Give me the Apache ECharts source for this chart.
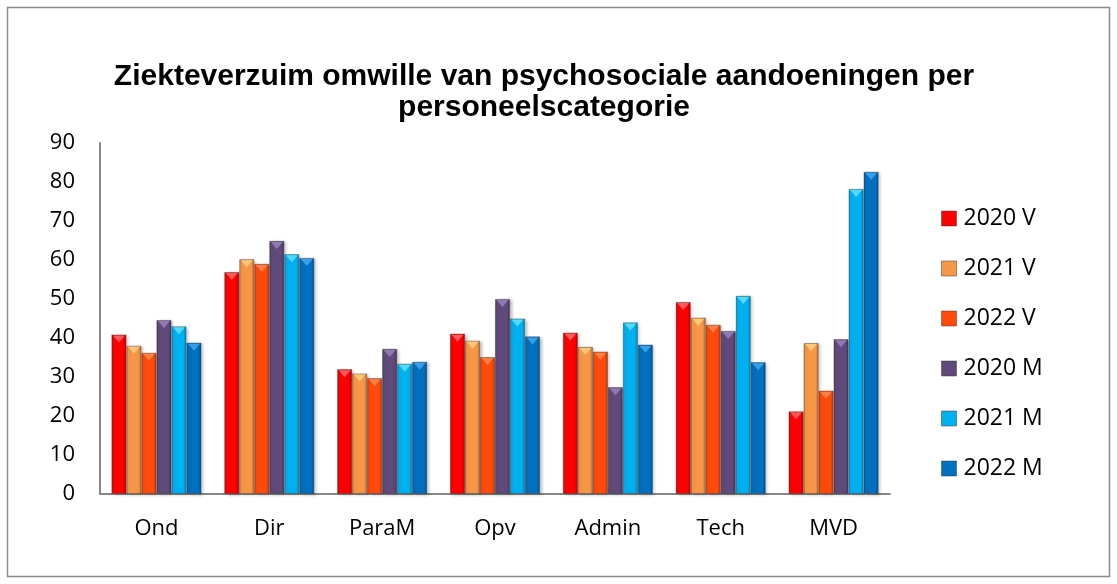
<!DOCTYPE html>
<html>
<head>
<meta charset="utf-8">
<script src="https://cdn.jsdelivr.net/npm/echarts@6/dist/echarts.min.js"></script>
<style>
html,body{margin:0;padding:0;background:#fff;}
#chart{width:1117px;height:584px;}
</style>
</head>
<body>
<div id="chart"></div>
<script>
const titleText = 'Ziekteverzuim omwille van psychosociale aandoeningen per\npersoneelscategorie';
const categories = ['Ond', 'Dir', 'ParaM', 'Opv', 'Admin', 'Tech', 'MVD'];
const seriesNames = ['2020 V', '2021 V', '2022 V', '2020 M', '2021 M', '2022 M'];
const v2020 = [40.9, 56.9, 32.0, 41.1, 41.4, 49.2, 21.2];
const v2021 = [38.0, 60.2, 30.9, 39.3, 37.7, 45.2, 38.7];
const v2022 = [36.2, 59.0, 29.7, 35.1, 36.5, 43.4, 26.5];
const m2020 = [44.6, 64.9, 37.2, 50.0, 27.4, 41.8, 39.7];
const m2021 = [43.0, 61.5, 33.4, 45.0, 44.0, 50.8, 78.2];
const m2022 = [38.8, 60.5, 33.9, 40.4, 38.3, 33.8, 82.6];
const yTicks = [0, 10, 20, 30, 40, 50, 60, 70, 80, 90];

const colors = ['#FF0000', '#F79646', '#FF4A0A', '#604A7B', '#00B0F0', '#0070C0'];
const darks  = ['#B00000', '#B86A2E', '#B83206', '#3E2F52', '#0080B0', '#004E88'];
const tops   = ['#FF6A6A', '#FFD080', '#FF8A50', '#9A80C0', '#60E0FF', '#40A8F0'];
const values = [v2020, v2021, v2022, m2020, m2021, m2022];

function grad(c, d) {
  return new echarts.graphic.LinearGradient(0, 0, 1, 0, [
    {offset: 0, color: d},
    {offset: 0.12, color: c},
    {offset: 0.8, color: c},
    {offset: 1, color: d}
  ]);
}

const chart = echarts.init(document.getElementById('chart'), null, {renderer: 'canvas'});
const series = seriesNames.map((n, i) => ({
  name: n,
  type: 'bar',
  data: values[i],
  barWidth: 15,
  barGap: '0%',
  itemStyle: {
    color: grad(colors[i], darks[i]),
    borderColor: 'rgba(60,60,60,0.45)',
    borderWidth: 0.8,
    shadowColor: 'rgba(0,0,0,0.25)',
    shadowBlur: 3,
    shadowOffsetX: 2,
    shadowOffsetY: 1
  },
  emphasis: {disabled: true}
}));
seriesNames.forEach((n, i) => {
  series.push({
    name: n,
    type: 'pictorialBar',
    data: values[i],
    barWidth: 15,
    barGap: '0%',
    symbol: 'triangle',
    symbolRotate: 180,
    symbolSize: [12, 7],
    symbolPosition: 'end',
    symbolOffset: [0, 1],
    z: 3,
    silent: true,
    itemStyle: {color: tops[i], opacity: 0.85},
    emphasis: {disabled: true}
  });
});

chart.setOption({
  animation: false,
  backgroundColor: '#fff',
  graphic: [
    {type: 'rect', shape: {x: 7.5, y: 7.5, width: 1102, height: 569},
     style: {fill: 'none', stroke: '#8c8c8c', lineWidth: 1.5}, silent: true},
    {type: 'text', x: 544, y: 61,
     style: {text: titleText, textAlign: 'center', fill: '#000',
             font: 'bold 30px "Liberation Sans", Arial, sans-serif', lineHeight: 31}}
  ],
  legend: {
    orient: 'vertical',
    left: 941,
    top: 207,
    padding: 0,
    itemWidth: 15,
    itemHeight: 15,
    itemGap: 27,
    icon: 'rect',
    data: seriesNames.map((n, i) => ({name: n, itemStyle: {color: colors[i], borderColor: 'rgba(60,60,60,0.5)', borderWidth: 1}})),
    textStyle: {fontFamily: '"Open Sans", "Noto Sans", sans-serif', fontSize: 23, color: '#000', padding: [0,0,0,2]}
  },
  grid: {left: 100, top: 143, width: 790, height: 351, containLabel: false},
  xAxis: {
    type: 'category',
    data: categories,
    axisLine: {lineStyle: {color: '#878787', width: 2}},
    axisTick: {show: false},
    axisLabel: {color: '#000', fontSize: 22, fontFamily: '"Open Sans", "Noto Sans", sans-serif', margin: 24}
  },
  yAxis: {
    type: 'value',
    min: yTicks[0],
    max: yTicks[yTicks.length - 1],
    interval: 10,
    axisLine: {show: true, lineStyle: {color: '#878787', width: 2}},
    axisTick: {show: false},
    splitLine: {show: false},
    axisLabel: {color: '#000', fontSize: 22, fontFamily: '"Open Sans", "Noto Sans", sans-serif', margin: 25}
  },
  series: series
});
</script>
</body>
</html>
